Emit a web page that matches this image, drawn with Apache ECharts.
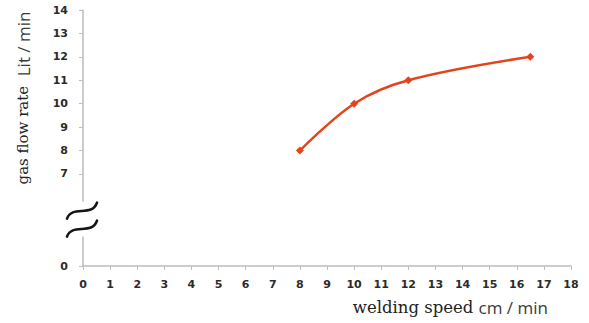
<!DOCTYPE html>
<html><head><meta charset="utf-8">
<script src="https://cdn.jsdelivr.net/npm/echarts@6/dist/echarts.min.js"></script>
<style>html,body{margin:0;padding:0;background:#fff}#c{width:589px;height:323px}</style>
</head><body><div id="c"></div>
<script>
// Data
const weldingSpeed = [8, 10, 12, 16.5];          // cm / min
const gasFlowRate  = [8, 10, 11, 12];            // Lit / min
const xTicks = [0,1,2,3,4,5,6,7,8,9,10,11,12,13,14,15,16,17,18];
const yTicksUpper = [7,8,9,10,11,12,13,14];
const yZeroLabel = '0';
const brokenZeroPos = 3.07;   // axis position where the "0" of the broken axis sits
const xName1 = 'welding speed', xName2 = 'cm / min';
const yName1 = 'gas flow rate', yName2 = 'Lit / min';

const chart = echarts.init(document.getElementById('c'), null, {renderer: 'svg'});
const axisCol = '#bdbdbd';
const labCol = '#2b2b2b';
const yTickVals = [brokenZeroPos].concat(yTicksUpper);
const labFont = {color: labCol, fontFamily: 'DejaVu Sans', fontWeight: 'bold', fontSize: 11};

chart.setOption({
  animation: false,
  grid: {left: 83, right: 18, top: 10, bottom: 57},
  xAxis: {
    type: 'value', min: 0, max: 18, interval: 1,
    axisLine: {show: true, lineStyle: {color: axisCol, width: 1.5}},
    axisTick: {show: true, length: 4, lineStyle: {color: axisCol}},
    splitLine: {show: false},
    axisLabel: Object.assign({margin: 13, customValues: xTicks}, labFont)
  },
  yAxis: {
    type: 'value', min: brokenZeroPos, max: 14,
    axisLine: {show: true, lineStyle: {color: axisCol, width: 1.5}},
    axisTick: {show: true, length: 4, lineStyle: {color: axisCol}, customValues: yTickVals},
    splitLine: {show: false},
    axisLabel: Object.assign({margin: 15, customValues: yTickVals,
      formatter: v => (Math.abs(v - brokenZeroPos) < 1e-6 ? yZeroLabel : String(Math.round(v)))}, labFont)
  },
  series: [{
    type: 'line',
    data: weldingSpeed.map((x, i) => [x, gasFlowRate[i]]),
    smooth: 0.35,
    symbol: 'diamond', symbolSize: 8,
    lineStyle: {color: '#e3441c', width: 2.5},
    itemStyle: {color: '#e3441c'}
  }]
});

// decorations: axis titles and break symbol
const p0 = chart.convertToPixel({gridIndex: 0}, [0, 5.05]);
const pTop = chart.convertToPixel({gridIndex: 0}, [0, 14]);
const pZero = chart.convertToPixel({gridIndex: 0}, [0, brokenZeroPos]);
const pXmid = chart.convertToPixel({gridIndex: 0}, [13.55, brokenZeroPos]);
const bx = p0[0], by = p0[1];
function tilde(cy) {
  return {type: 'bezierCurve', shape: {x1: bx - 16, y1: cy + 8, cpx1: bx - 11, cpy1: cy - 6, cpx2: bx + 9, cpy2: cy + 7, x2: bx + 14, y2: cy - 8},
    style: {stroke: '#151515', lineWidth: 2.6, fill: null, lineCap: 'round'}, z: 101};
}
chart.setOption({
  graphic: [
    {type: 'rect', shape: {x: bx - 4, y: by - 18, width: 8, height: 35}, style: {fill: '#fff'}, z: 100},
    tilde(by - 9),
    tilde(by + 9),
    {type: 'text', x: pXmid[0], y: pZero[1] + 41, style: {
      text: '{a|' + xName1 + ' }{b|' + xName2 + '}', align: 'center', verticalAlign: 'middle',
      rich: {a: {fontFamily: 'DejaVu Serif', fontSize: 16.5, fill: '#222'}, b: {fontFamily: 'Open Sans', fontSize: 17, fill: '#3a3a3a'}}}},
    {type: 'text', x: 23, y: pTop[1] + 88, rotation: Math.PI / 2, style: {
      text: '{a|' + yName1 + '  }{b|' + yName2 + '}', align: 'center', verticalAlign: 'middle',
      rich: {a: {fontFamily: 'DejaVu Serif', fontSize: 15, fill: '#222'}, b: {fontFamily: 'Open Sans', fontSize: 17, fill: '#3a3a3a'}}}}
  ]
});
</script></body></html>
